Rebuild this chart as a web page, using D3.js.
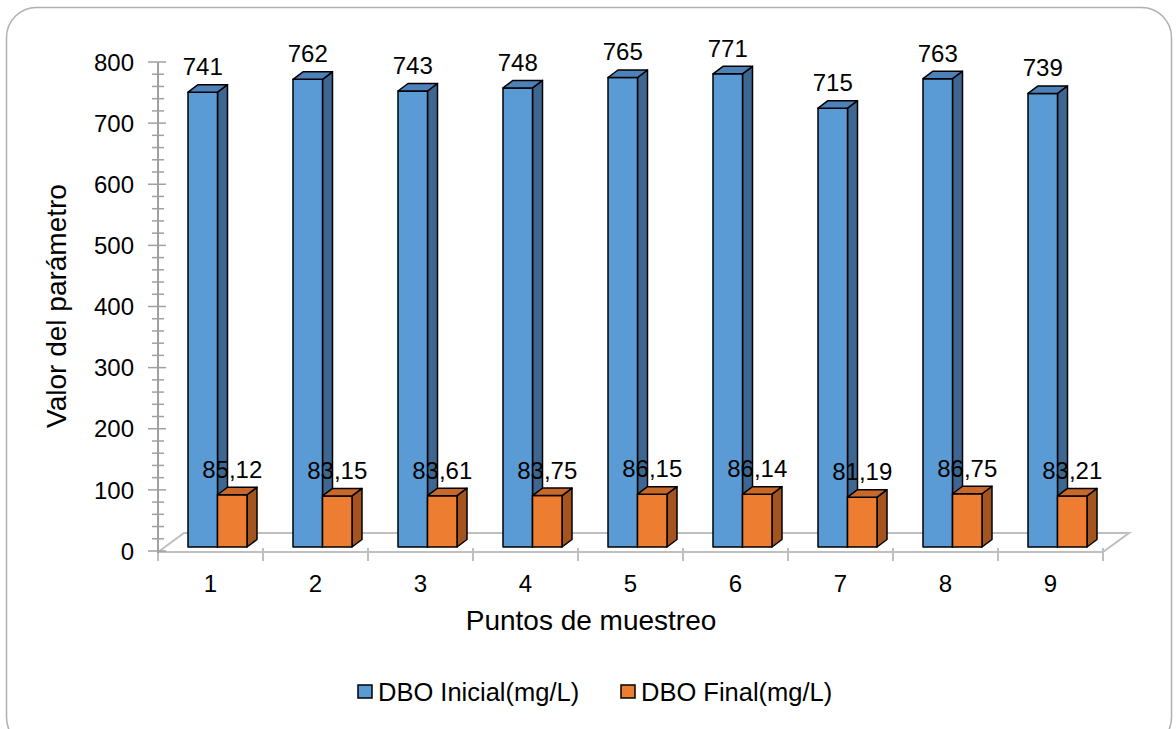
<!DOCTYPE html>
<html>
<head>
<meta charset="utf-8">
<script src="https://cdn.jsdelivr.net/npm/d3@7/dist/d3.min.js"></script>
<style>
  html, body { margin: 0; padding: 0; background: #ffffff; }
  svg { display: block; font-family: "Liberation Sans", Arial, sans-serif; }
</style>
</head>
<body>
<svg id="chart" width="1176" height="729"></svg>
<script>
// Sampling points and measured BOD values (mg/L)
const categories = ["1", "2", "3", "4", "5", "6", "7", "8", "9"];
const seriesNames = ["DBO Inicial(mg/L)", "DBO Final(mg/L)"];
const dboInicial = [741, 762, 743, 748, 765, 771, 715, 763, 739];
const dboFinal = [85.12, 83.15, 83.61, 83.75, 86.15, 86.14, 81.19, 86.75, 83.21];
const yTicks = [0, 100, 200, 300, 400, 500, 600, 700, 800];

const svg = d3.select("#chart");

// Card frame
svg.append("rect")
  .attr("x", 6.5).attr("y", 7.5)
  .attr("width", 1165).attr("height", 740)
  .attr("rx", 30).attr("ry", 30)
  .attr("fill", "#ffffff")
  .attr("stroke", "#b0b0b0").attr("stroke-width", 1.5);

// Plot geometry
const frontLeft = 158, frontRight = 1103, frontY = 552;
const floorDX = 26, floorDY = -19;   // depth of the floor
const barDX = 10, barDY = -7.5;      // depth of each column

const x = d3.scaleBand().domain(categories).range([frontLeft, frontRight]).padding(0);
const xs = d3.scaleBand().domain(seriesNames).range([30, 89]).padding(0);
const yAxisScale = d3.scaleLinear().domain([0, 800]).range([551, 62]);
const yBar = d3.scaleLinear().domain([0, 800]).range([547, 56]);

const colors = {
  "DBO Inicial(mg/L)": { front: "#5b9bd5", top: "#4f81b9", side: "#3d6791" },
  "DBO Final(mg/L)": { front: "#ed7d31", top: "#c8682a", side: "#a3541f" }
};

// Floor outline
const gridColor = "#bfbfbf";
const floor = svg.append("g").attr("fill", "none").attr("stroke", gridColor).attr("stroke-width", 2);
floor.append("path").attr("d", d3.line()([
  [frontLeft, frontY],
  [frontLeft + floorDX, frontY + floorDY],
  [frontRight + floorDX, frontY + floorDY],
  [frontRight, frontY],
  [frontLeft, frontY]
]));

// Category ticks
floor.selectAll("line.ct")
  .data(categories.concat(["end"]))
  .join("line")
  .attr("x1", (d, i) => frontLeft + i * x.step())
  .attr("x2", (d, i) => frontLeft + i * x.step())
  .attr("y1", frontY - 4).attr("y2", frontY + 9);

// Value axis with major and minor ticks
const axisG = svg.append("g").attr("stroke", "#a0a0a0");
axisG.append("line")
  .attr("x1", frontLeft).attr("x2", frontLeft)
  .attr("y1", yAxisScale(800)).attr("y2", frontY + 1)
  .attr("stroke-width", 2);
const minorVals = d3.range(0, 801, 20);
axisG.selectAll("line.tk")
  .data(minorVals)
  .join("line")
  .attr("x1", d => d % 100 === 0 ? frontLeft - 10 : frontLeft - 6)
  .attr("x2", d => d % 100 === 0 ? frontLeft + 8 : frontLeft + 6)
  .attr("y1", d => yAxisScale(d)).attr("y2", d => yAxisScale(d))
  .attr("stroke-width", 1.5);

svg.append("g")
  .selectAll("text")
  .data(yTicks)
  .join("text")
  .attr("x", 134)
  .attr("y", d => yAxisScale(d))
  .attr("dy", "0.36em")
  .attr("text-anchor", "end")
  .attr("font-size", 24)
  .attr("fill", "#000")
  .text(d => d);

// Category labels
svg.append("g")
  .selectAll("text")
  .data(categories)
  .join("text")
  .attr("x", d => x(d) + x.bandwidth() / 2)
  .attr("y", 592)
  .attr("text-anchor", "middle")
  .attr("font-size", 24)
  .attr("fill", "#000")
  .text(d => d);

// Axis titles
svg.append("text")
  .attr("x", 591).attr("y", 630)
  .attr("text-anchor", "middle")
  .attr("font-size", 28)
  .attr("fill", "#000")
  .text("Puntos de muestreo");

svg.append("text")
  .attr("transform", "translate(66,306) rotate(-90)")
  .attr("text-anchor", "middle")
  .attr("font-size", 28)
  .attr("fill", "#000")
  .text("Valor del parámetro");

// 3D columns
const rows = categories.map((c, i) => [
  { cat: c, series: seriesNames[0], value: dboInicial[i] },
  { cat: c, series: seriesNames[1], value: dboFinal[i] }
]).flat();

function columnFaces(d) {
  const x0 = x(d.cat) + xs(d.series);
  const x1 = x0 + xs.bandwidth();
  const yTop = yBar(d.value);
  const yBase = yBar(0);
  return {
    front: [[x0, yTop], [x1, yTop], [x1, yBase], [x0, yBase]],
    side: [[x1, yTop], [x1 + barDX, yTop + barDY], [x1 + barDX, yBase + barDY], [x1, yBase]],
    top: [[x0, yTop], [x0 + barDX, yTop + barDY], [x1 + barDX, yTop + barDY], [x1, yTop]]
  };
}

const poly = pts => "M" + pts.map(p => p.join(",")).join("L") + "Z";
const bars = svg.append("g")
  .selectAll("g")
  .data(rows)
  .join("g")
  .attr("stroke", "#000")
  .attr("stroke-width", 1.5)
  .attr("stroke-linejoin", "round");
bars.append("path").attr("d", d => poly(columnFaces(d).side)).attr("fill", d => colors[d.series].side);
bars.append("path").attr("d", d => poly(columnFaces(d).front)).attr("fill", d => colors[d.series].front);
bars.append("path").attr("d", d => poly(columnFaces(d).top)).attr("fill", d => colors[d.series].top);

// Value labels
const fmt = d => d.series === seriesNames[0]
  ? String(d.value)
  : d.value.toFixed(2).replace(".", ",");
svg.append("g")
  .selectAll("text")
  .data(rows)
  .join("text")
  .attr("x", d => x(d.cat) + xs(d.series) + xs.bandwidth() / 2)
  .attr("y", d => yBar(d.value) - 17)
  .attr("text-anchor", "middle")
  .attr("font-size", 24)
  .attr("fill", "#000")
  .text(fmt);

// Legend
const legend = svg.append("g").attr("transform", "translate(0,692)");
const legendX = [358, 621];
seriesNames.forEach((s, i) => {
  legend.append("rect")
    .attr("x", legendX[i]).attr("y", -7)
    .attr("width", 14).attr("height", 13)
    .attr("fill", colors[s].front)
    .attr("stroke", "#000").attr("stroke-width", 1.5);
  legend.append("text")
    .attr("x", legendX[i] + 20).attr("y", 0)
    .attr("dy", "0.36em")
    .attr("font-size", 25.5)
    .attr("fill", "#000")
    .text(s);
});
</script>
</body>
</html>
